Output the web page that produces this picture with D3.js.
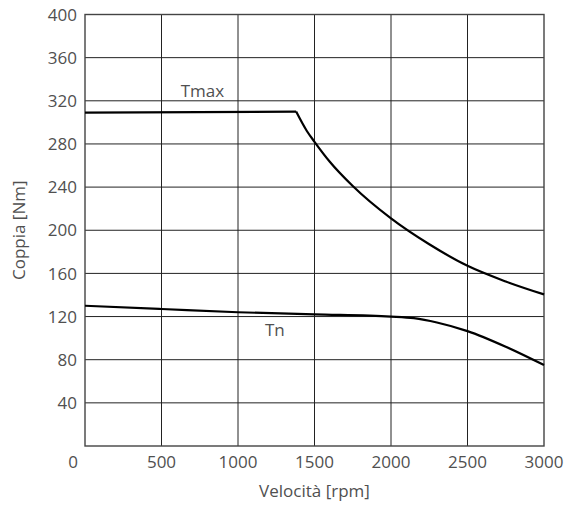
<!DOCTYPE html>
<html>
<head>
<meta charset="utf-8">
<script src="https://cdn.jsdelivr.net/npm/d3@7"></script>
<style>
  html, body { margin: 0; padding: 0; background: #fff; }
  svg { display: block; font-family: "Open Sans", "Liberation Sans", Arial, sans-serif; }
</style>
</head>
<body>
<div id="chart"></div>
<script>
// Tmax: flat until ~1380 rpm, then falls off (constant-power region)
const tmaxRpm = [0, 1380, 1450, 1500, 1600, 1750, 2000, 2250, 2500, 2750, 3000];
const tmaxNm = [309, 310, 292, 282, 263.5, 241, 211, 187, 167, 152.5, 140.5];
const tmaxCorner = 1; // index where the flat part ends

// Tn: slow drop, then bends down after 2000 rpm
const tnRpm = [0, 500, 1000, 1500, 2000, 2150, 2300, 2500, 2750, 3000];
const tnNm = [130, 127, 124, 122, 120, 118.5, 114.5, 106.5, 92, 75];

const xTicks = [0, 500, 1000, 1500, 2000, 2500, 3000];
const yTicks = [40, 80, 120, 160, 200, 240, 280, 320, 360, 400];

const seriesLabels = [
  { text: 'Tmax', rpm: 625, nm: 323.5 },
  { text: 'Tn', rpm: 1176, nm: 102.2 },
];

const W = 564, H = 515;
const margin = { top: 14.5, right: 20, bottom: 69, left: 85 };
const width = W - margin.left - margin.right;
const height = H - margin.top - margin.bottom;
const textColor = '#505050';

const svg = d3.select('#chart').append('svg')
  .attr('width', W).attr('height', H);
const g = svg.append('g').attr('transform', `translate(${margin.left},${margin.top})`);

const x = d3.scaleLinear().domain([0, 3000]).range([0, width]);
const y = d3.scaleLinear().domain([0, 400]).range([height, 0]);

// grid
g.selectAll('.vgrid').data(xTicks.slice(1, -1)).enter().append('line')
  .attr('x1', (d) => x(d)).attr('x2', (d) => x(d))
  .attr('y1', 0).attr('y2', height)
  .attr('stroke', '#222').attr('stroke-width', 1);
g.selectAll('.hgrid').data(yTicks.slice(0, -1)).enter().append('line')
  .attr('x1', 0).attr('x2', width)
  .attr('y1', (d) => y(d)).attr('y2', (d) => y(d))
  .attr('stroke', '#222').attr('stroke-width', 1);

// frame
g.append('rect')
  .attr('width', width).attr('height', height)
  .attr('fill', 'none').attr('stroke', '#444').attr('stroke-width', 1.4);

// tick labels
g.selectAll('.ylab').data(yTicks).enter().append('text')
  .attr('x', -8).attr('y', (d) => y(d)).attr('dy', '0.36em')
  .attr('text-anchor', 'end')
  .attr('font-size', 17).attr('fill', textColor)
  .text((d) => d);
g.selectAll('.xlab').data(xTicks).enter().append('text')
  .attr('x', (d) => x(d) + (d === 0 ? -12 : 0)).attr('y', height + 22)
  .attr('text-anchor', 'middle')
  .attr('font-size', 17).attr('fill', textColor)
  .text((d) => d);

// axis titles
svg.append('text')
  .attr('transform', `translate(25,${margin.top + height / 2}) rotate(-90)`)
  .attr('text-anchor', 'middle')
  .attr('font-size', 17).attr('fill', textColor)
  .text('Coppia [Nm]');
svg.append('text')
  .attr('x', margin.left + width / 2).attr('y', 497)
  .attr('text-anchor', 'middle')
  .attr('font-size', 17).attr('fill', textColor)
  .text('Velocità [rpm]');

// curves
const tmax = tmaxRpm.map((r, i) => ({ rpm: r, nm: tmaxNm[i] }));
const tn = tnRpm.map((r, i) => ({ rpm: r, nm: tnNm[i] }));

const flat = d3.line().x((d) => x(d.rpm)).y((d) => y(d.nm));
const smooth = d3.line().x((d) => x(d.rpm)).y((d) => y(d.nm)).curve(d3.curveMonotoneX);

g.append('path').datum(tmax.slice(0, tmaxCorner + 1)).attr('d', flat)
  .attr('fill', 'none').attr('stroke', '#000').attr('stroke-width', 2.2);
g.append('path').datum(tmax.slice(tmaxCorner)).attr('d', smooth)
  .attr('fill', 'none').attr('stroke', '#000').attr('stroke-width', 2.2);
g.append('path').datum(tn).attr('d', smooth)
  .attr('fill', 'none').attr('stroke', '#000').attr('stroke-width', 2.2);

// series labels
g.selectAll('.slab').data(seriesLabels).enter().append('text')
  .attr('x', (d) => x(d.rpm)).attr('y', (d) => y(d.nm))
  .attr('font-size', 17).attr('fill', textColor)
  .text((d) => d.text);
</script>
</body>
</html>
